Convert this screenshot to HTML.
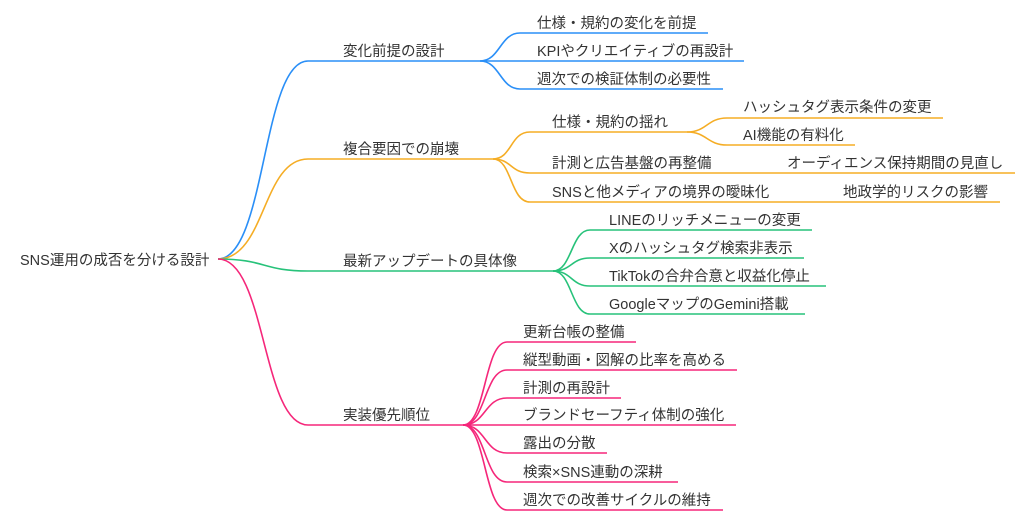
<!DOCTYPE html>
<html><head><meta charset="utf-8"><style>
html,body{margin:0;padding:0;background:#fff;}
svg{display:block}
text{font-family:"Liberation Sans","Noto Sans CJK JP",sans-serif;font-size:14.5px;fill:#333;}
path{fill:none;stroke-width:1.6;}
.b{stroke:#2a8ff7}.o{stroke:#f5ad25}.g{stroke:#27c27a}.p{stroke:#f5277a}
</style></head><body>
<svg width="1024" height="519" viewBox="0 0 1024 519" xmlns="http://www.w3.org/2000/svg">
<text x="20" y="265">SNS運用の成否を分ける設計</text>
<path class="b" d="M218,259 C266,259 262,61 308,61 L480,61"/>
<path class="o" d="M218,259 C266,259 262,159 308,159 L493,159"/>
<path class="g" d="M218,259 C266,259 262,271 308,271 L553,271"/>
<path class="p" d="M218,259 C266,259 262,425 308,425 L463,425"/>
<text x="343" y="56">変化前提の設計</text>
<text x="343" y="154">複合要因での崩壊</text>
<text x="343" y="266">最新アップデートの具体像</text>
<text x="343" y="420">実装優先順位</text>
<path class="b" d="M480,61 C500,61 500,33 520,33 L708,33"/>
<path class="b" d="M480,61 L744,61"/>
<path class="b" d="M480,61 C500,61 500,89 520,89 L723,89"/>
<text x="537" y="28">仕様・規約の変化を前提</text>
<text x="537" y="56">KPIやクリエイティブの再設計</text>
<text x="537" y="84">週次での検証体制の必要性</text>
<path class="o" d="M493,159 C512,159 510,132 530,132 L687,132"/>
<path class="o" d="M493,159 C512,159 510,173 530,173 L1015,173"/>
<path class="o" d="M493,159 C512,159 510,202 530,202 L1000,202"/>
<path class="o" d="M687,132 C707,132 707,118 727,118 L943,118"/>
<path class="o" d="M687,132 C707,132 707,145 727,145 L855,145"/>
<text x="552" y="127">仕様・規約の揺れ</text>
<text x="552" y="168">計測と広告基盤の再整備</text>
<text x="552" y="197">SNSと他メディアの境界の曖昧化</text>
<text x="743" y="112">ハッシュタグ表示条件の変更</text>
<text x="743" y="140">AI機能の有料化</text>
<text x="787" y="168">オーディエンス保持期間の見直し</text>
<text x="843" y="197">地政学的リスクの影響</text>
<path class="g" d="M553,271 C572,271 571,230 590,230 L812,230"/>
<path class="g" d="M553,271 C572,271 571,258 590,258 L804,258"/>
<path class="g" d="M553,271 C572,271 571,286 590,286 L826,286"/>
<path class="g" d="M553,271 C572,271 571,314 590,314 L805,314"/>
<text x="609" y="225">LINEのリッチメニューの変更</text>
<text x="609" y="253">Xのハッシュタグ検索非表示</text>
<text x="609" y="281">TikTokの合弁合意と収益化停止</text>
<text x="609" y="309">GoogleマップのGemini搭載</text>
<path class="p" d="M463,425 C486,425 484,342 507,342 L636,342"/>
<path class="p" d="M463,425 C486,425 484,370 507,370 L737,370"/>
<path class="p" d="M463,425 C486,425 484,398 507,398 L621,398"/>
<path class="p" d="M463,425 L736,425"/>
<path class="p" d="M463,425 C486,425 484,453 507,453 L607,453"/>
<path class="p" d="M463,425 C486,425 484,482 507,482 L678,482"/>
<path class="p" d="M463,425 C486,425 484,510 507,510 L723,510"/>
<text x="523" y="337">更新台帳の整備</text>
<text x="523" y="365">縦型動画・図解の比率を高める</text>
<text x="523" y="393">計測の再設計</text>
<text x="523" y="420">ブランドセーフティ体制の強化</text>
<text x="523" y="448">露出の分散</text>
<text x="523" y="477">検索×SNS連動の深耕</text>
<text x="523" y="505">週次での改善サイクルの維持</text>
</svg>
</body></html>
